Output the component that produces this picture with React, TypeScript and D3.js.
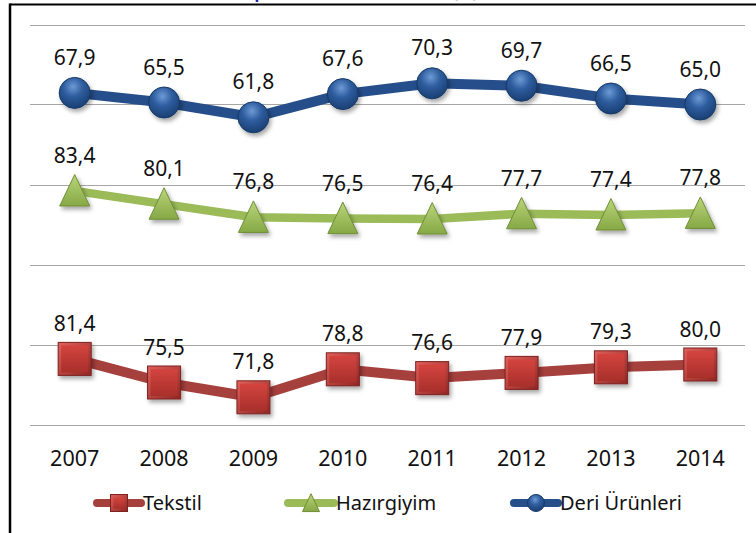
import React from "react";
import * as d3 from "d3";

const years = ["2007", "2008", "2009", "2010", "2011", "2012", "2013", "2014"];
const tekstil = [81.4, 75.5, 71.8, 78.8, 76.6, 77.9, 79.3, 80.0];
const hazirgiyim = [83.4, 80.1, 76.8, 76.5, 76.4, 77.7, 77.4, 77.8];
const deri = [67.9, 65.5, 61.8, 67.6, 70.3, 69.7, 66.5, 65.0];
const seriesNames = ["Tekstil", "Hazırgiyim", "Deri Ürünleri"];
const seriesOffsets = [0, 40, 80];
const gridTicks = [65, 85, 105, 125, 145, 165];
const titleText = "Kapasite Kullanım Oranları (%)";

const W = 756;
const H = 533;
const FONT = "'Noto Sans', 'Open Sans', sans-serif";

const fmt = (v: number) => v.toFixed(1).replace(".", ",");

export default function App() {
  const x = d3.scalePoint<string>().domain(years).range([30, 745]).padding(0.5);
  const y = d3.scaleLinear().domain([65, 165]).range([424.5, 24.5]);

  const series = [
    { name: seriesNames[0], values: tekstil, offset: seriesOffsets[0], line: "#A6403D", width: 10, shape: "square" },
    { name: seriesNames[1], values: hazirgiyim, offset: seriesOffsets[1], line: "#9BBB59", width: 8.5, shape: "triangle" },
    { name: seriesNames[2], values: deri, offset: seriesOffsets[2], line: "#254E8A", width: 10, shape: "circle" },
  ];

  const marker = (shape: string, cx: number, cy: number, s: number, key?: any, shadow = true) => {
    const filt = shadow ? "url(#shadow)" : undefined;
    if (shape === "square") {
      const h = s / 2;
      return (
        <g key={key} filter={filt}>
          <rect x={cx - h} y={cy - h} width={s} height={s} fill="url(#gRed)" stroke="#7E2220" strokeWidth={1} />
          <rect x={cx - h + 3} y={cy - h + 3} width={s - 6} height={s - 6} fill="url(#gRedIn)" />
        </g>
      );
    }
    if (shape === "triangle") {
      const w = s;
      const hh = s * 1.05;
      const p = d3.path();
      p.moveTo(cx, cy - hh * 0.52);
      p.lineTo(cx + w / 2, cy + hh * 0.48);
      p.lineTo(cx - w / 2, cy + hh * 0.48);
      p.closePath();
      return (
        <g key={key} filter={filt}>
          <path d={p.toString()} fill="url(#gGreen)" stroke="#6F8E36" strokeWidth={1} />
        </g>
      );
    }
    return (
      <g key={key} filter={filt}>
        <circle cx={cx} cy={cy} r={s / 2} fill="url(#gBlue)" stroke="#173A66" strokeWidth={1} />
      </g>
    );
  };

  const sizes: Record<string, number> = { square: 33, triangle: 30, circle: 31 };
  const legendSizes: Record<string, number> = { square: 17, triangle: 17, circle: 17 };

  const legendItems = [
    { s: series[0], x0: 97, x1: 141, tx: 143 },
    { s: series[1], x0: 288, x1: 334, tx: 336 },
    { s: series[2], x0: 514, x1: 558, tx: 560 },
  ];

  return (
    <svg width={W} height={H} style={{ position: "absolute", left: 0, top: 0, background: "#fff" }}>
      <defs>
        <filter id="shadow" x="-50%" y="-50%" width="200%" height="200%">
          <feDropShadow dx={2} dy={3} stdDeviation={2.2} floodColor="#000" floodOpacity={0.35} />
        </filter>
        <radialGradient id="gBlue" cx="45%" cy="30%" r="70%">
          <stop offset="0%" stopColor="#6E9AD6" />
          <stop offset="45%" stopColor="#2E5D9E" />
          <stop offset="100%" stopColor="#1A3F73" />
        </radialGradient>
        <linearGradient id="gRed" x1="0" y1="0" x2="1" y2="1">
          <stop offset="0%" stopColor="#E0615C" />
          <stop offset="100%" stopColor="#8F2623" />
        </linearGradient>
        <linearGradient id="gRedIn" x1="0" y1="0" x2="0" y2="1">
          <stop offset="0%" stopColor="#D4443F" />
          <stop offset="100%" stopColor="#A82F2B" />
        </linearGradient>
        <linearGradient id="gGreen" x1="0" y1="0" x2="0" y2="1">
          <stop offset="0%" stopColor="#B9D57A" />
          <stop offset="100%" stopColor="#86A845" />
        </linearGradient>
      </defs>

      {/* clipped title above the frame */}
      <text x={478} y={-2.5} textAnchor="end" fontFamily={FONT} fontWeight="bold" fontSize={16} fill="#2020A8">
        {titleText}
      </text>

      {/* frame */}
      <line x1={10} y1={4.5} x2={W} y2={4.5} stroke="#000" strokeWidth={2} />
      <line x1={10} y1={3.5} x2={10} y2={H} stroke="#000" strokeWidth={2.5} />

      {/* gridlines */}
      {gridTicks.map((t) => (
        <line key={t} x1={30} x2={745} y1={Math.round(y(t)) + 0.5} y2={Math.round(y(t)) + 0.5} stroke="#A6A6A6" strokeWidth={1} />
      ))}

      {/* series */}
      {series.map((s, si) => {
        const line = d3
          .line<number>()
          .x((_, i) => x(years[i]) as number)
          .y((v) => y(v + s.offset));
        return (
          <g key={si}>
            <path d={line(s.values) || ""} fill="none" stroke={s.line} strokeWidth={s.width} strokeLinejoin="round" />
            {s.values.map((v, i) => marker(s.shape, x(years[i]) as number, y(v + s.offset), sizes[s.shape], i))}
            {s.values.map((v, i) => (
              <text
                key={"t" + i}
                x={x(years[i]) as number}
                y={y(v + s.offset) - 28}
                textAnchor="middle"
                fontFamily={FONT}
                fontSize={21}
                fill="#111"
              >
                {fmt(v)}
              </text>
            ))}
          </g>
        );
      })}

      {/* x axis labels */}
      {years.map((yr) => (
        <text key={yr} x={x(yr) as number} y={466} textAnchor="middle" fontFamily={FONT} fontSize={21.5} fill="#111">
          {yr}
        </text>
      ))}

      {/* legend */}
      {legendItems.map((it, i) => (
        <g key={i}>
          <line x1={it.x0} x2={it.x1} y1={503} y2={503} stroke={it.s.line} strokeWidth={8} strokeLinecap="round" />
          {marker(it.s.shape, (it.x0 + it.x1) / 2, 503, legendSizes[it.s.shape], undefined, false)}
          <text x={it.tx} y={510} fontFamily={FONT} fontSize={20} fill="#111">
            {it.s.name}
          </text>
        </g>
      ))}
    </svg>
  );
}
